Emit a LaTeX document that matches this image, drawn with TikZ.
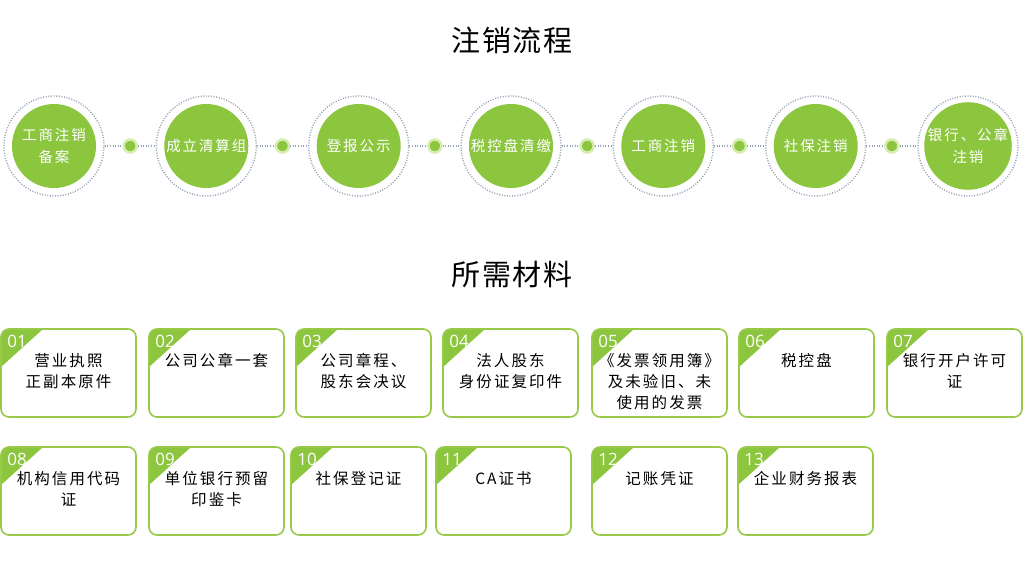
\documentclass[tikz,border=0pt]{standalone}
\usepackage{fontspec}
\usetikzlibrary{calc}
\newfontfamily\cjk[LetterSpace=13]{Noto Sans CJK SC}
\newfontfamily\cjkt[LetterSpace=6]{Noto Sans CJK SC}
\newfontfamily\numf{Open Sans}
\definecolor{g}{RGB}{140,198,63}
\definecolor{gb}{RGB}{152,202,72}
\definecolor{gpale}{RGB}{214,236,176}
\definecolor{rg}{RGB}{150,160,182}
\tikzset{
  stepcircle/.style={circle, fill=g, minimum size=84pt, inner sep=0pt, text=white, align=center, font=\cjk\fontsize{14.5}{22}\selectfont},
  ring/.style={circle, draw=rg, line width=1.4pt, dash pattern=on 1pt off 1.6pt, minimum size=100pt, inner sep=0pt},
  dotline/.style={draw=rg, line width=1.2pt, dash pattern=on 1pt off 1.6pt},
  linkdot/.style={circle, fill=g, draw=gpale, line width=2.5pt, minimum size=13pt, inner sep=0pt},
  matbox/.style={draw=gb, line width=1.6pt, rounded corners=8pt, minimum width=135pt, minimum height=88pt, inner sep=0pt},
  numlabel/.style={text=white, font=\numf\fontsize{17}{17}\selectfont, inner sep=0pt},
  mattext/.style={align=center, inner sep=0pt, font=\cjk\fontsize{15.5}{21}\selectfont},
  titletext/.style={font=\cjkt\fontsize{29}{32}\selectfont, inner sep=0pt}
}
\newcommand\matitem[5]{%
  \begin{scope}
    \clip[rounded corners=8pt] (#2,#3) rectangle ++(135,88);
    \fill[g] (#2,#3) -- ++(42,0) -- ++(-42,38) -- cycle;
  \end{scope}
  \node[matbox] (#1) at ({#2+67.5},{#3+44}) {};
  \node[numlabel] (#1n) at ({#2+16},{#3+12.5}) {#4};
  \node[mattext, anchor=north] (#1t) at ({#2+67.5},{#3+24.5}) {#5};
}
\begin{document}
\begin{tikzpicture}[x=1pt,y=-1pt]
\useasboundingbox[fill=white] (0,0) rectangle (1024,581);
\node[titletext] (t1) at (512,40) {注销流程};
\node[titletext] (t2) at (512,275) {所需材料};

% rings
\node[ring] (r1) at (54,146) {};
\node[ring] (r2) at (206.3,146) {};
\node[ring] (r3) at (358.7,146) {};
\node[ring] (r4) at (511,146) {};
\node[ring] (r5) at (663.3,146) {};
\node[ring] (r6) at (815.7,146) {};
\node[ring] (r7) at (968,146) {};
% steps
\node[stepcircle] (s1) at (r1) {工商注销\\备案};
\node[stepcircle] (s2) at (r2) {成立清算组};
\node[stepcircle] (s3) at (r3) {登报公示};
\node[stepcircle] (s4) at (r4) {税控盘清缴};
\node[stepcircle] (s5) at (r5) {工商注销};
\node[stepcircle] (s6) at (r6) {社保注销};
\node[stepcircle] (s7) at (r7) {银行、公章\\注销};
% link dots
\node[linkdot] (d1) at ($(r1)!0.5!(r2)$) {};
\node[linkdot] (d2) at ($(r2)!0.5!(r3)$) {};
\node[linkdot] (d3) at ($(r3)!0.5!(r4)$) {};
\node[linkdot] (d4) at ($(r4)!0.5!(r5)$) {};
\node[linkdot] (d5) at ($(r5)!0.5!(r6)$) {};
\node[linkdot] (d6) at ($(r6)!0.5!(r7)$) {};
\path[dotline] (r1) -- (d1) (d1) -- (r2);
\path[dotline] (r2) -- (d2) (d2) -- (r3);
\path[dotline] (r3) -- (d3) (d3) -- (r4);
\path[dotline] (r4) -- (d4) (d4) -- (r5);
\path[dotline] (r5) -- (d5) (d5) -- (r6);
\path[dotline] (r6) -- (d6) (d6) -- (r7);

% materials row 1
\matitem{m1}{1}{329}{01}{营业执照\\正副本原件}
\matitem{m2}{149}{329}{02}{公司公章一套}
\matitem{m3}{296}{329}{03}{公司章程、\\股东会决议}
\matitem{m4}{443}{329}{04}{法人股东\\身份证复印件}
\matitem{m5}{592}{329}{05}{《发票领用簿》\\及未验旧、未\\使用的发票}
\matitem{m6}{739}{329}{06}{税控盘}
\matitem{m7}{887}{329}{07}{银行开户许可\\证}
% materials row 2
\matitem{m8}{1}{447}{08}{机构信用代码\\证}
\matitem{m9}{149}{447}{09}{单位银行预留\\印鉴卡}
\matitem{m10}{291}{447}{10}{社保登记证}
\matitem{m11}{436}{447}{11}{CA证书}
\matitem{m12}{592}{447}{12}{记账凭证}
\matitem{m13}{738}{447}{13}{企业财务报表}
\end{tikzpicture}
\end{document}
